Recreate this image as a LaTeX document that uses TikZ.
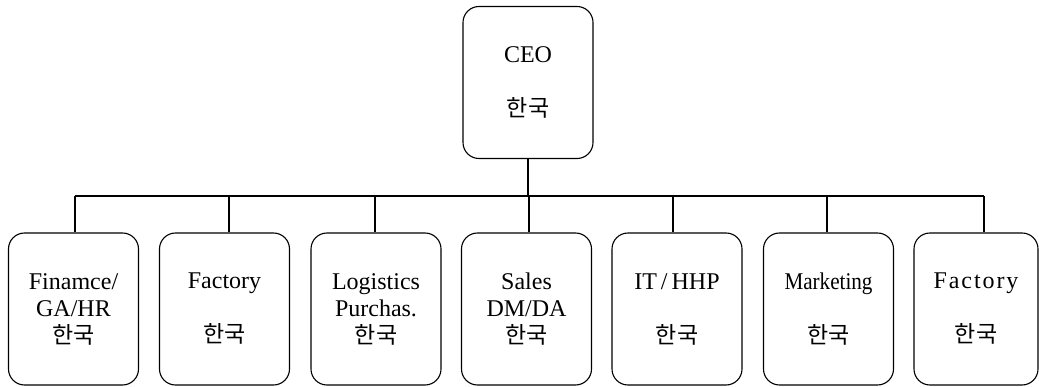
\documentclass[tikz,border=0pt]{standalone}
\usepackage{fontspec}
\usepackage{graphicx}
\setmainfont{Liberation Serif}
\newfontfamily\kofont{Noto Sans CJK KR}
\newcommand\hk{{\kofont\fontsize{23}{27}\selectfont 한국}}
\begin{document}
\begin{tikzpicture}[x=1pt,y=-1pt,
  box/.style={draw, line width=1.1pt, rounded corners=16pt, minimum width=130pt,
    minimum height=152pt, align=center, inner sep=0pt,
    font=\fontsize{24}{27}\selectfont},
  link/.style={line width=1.1pt}]
\useasboundingbox (0,0) rectangle (1039,387);
\node[box] (ceo) at (528,82.5) {CEO\\[27pt]\hk};
\node[box] (b1) at (73.5,309) {Finamce/\\GA/HR\\\hk};
\node[box] (b2) at (224.5,309) {Factory\\[27pt]\hk};
\node[box] (b3) at (376,309) {Logistics\\Purchas.\\\hk};
\node[box] (b4) at (526.5,309) {Sales\\DM/DA\\\hk};
\node[box] (b5) at (677,309) {IT\,/\,HHP\\[27pt]\hk};
\node[box] (b6) at (828.5,309) {\scalebox{0.88}[1]{Marketing}\\[27pt]\hk};
\node[box, minimum width=124pt] (b7) at (976,309) {\addfontfeature{LetterSpace=8}Factory\\[27pt]\hk};
\coordinate (busL) at (75,196);
\coordinate (busR) at (984,196);
\draw[link] (ceo.south) -- (ceo.south |- busL);
\draw[link] (busL) -- (busR);
\foreach \b/\dx in {b1/1.5, b2/4.5, b3/-1, b4/2.5, b5/-4, b6/-1.5, b7/8}{
  \draw[link] ([xshift=\dx pt]\b.north) -- ([xshift=\dx pt]\b.north |- busL);
}
\end{tikzpicture}
\end{document}
